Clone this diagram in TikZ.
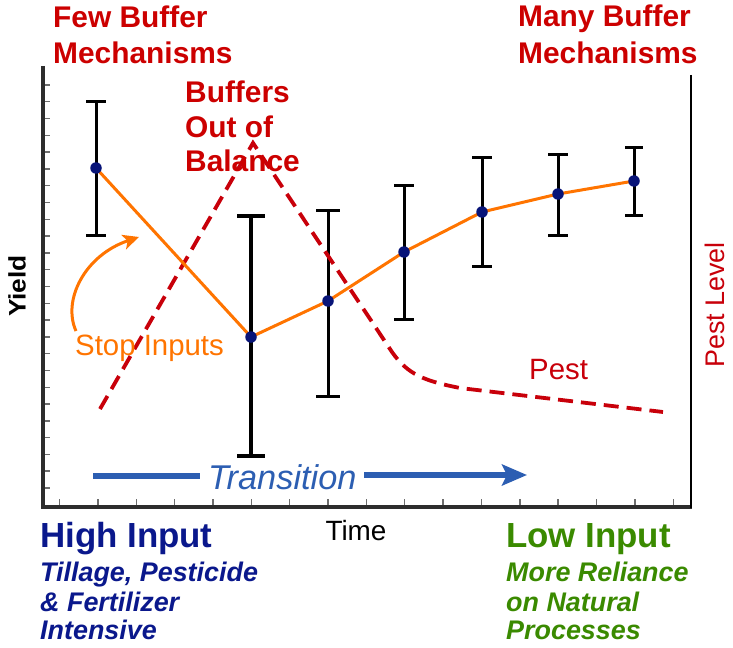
\documentclass[tikz,border=0pt]{standalone}
\usepackage{fontspec}
\setmainfont{Liberation Sans}
\usetikzlibrary{arrows.meta}
\definecolor{tred}{RGB}{204,0,0}
\definecolor{pestred}{RGB}{200,0,10}
\definecolor{navy}{RGB}{10,24,140}
\definecolor{dotblue}{RGB}{8,20,120}
\definecolor{lgreen}{RGB}{58,138,0}
\definecolor{orng}{RGB}{255,116,0}
\definecolor{tblue}{RGB}{44,94,178}
\definecolor{axisgray}{RGB}{45,45,45}
\definecolor{tickgray}{RGB}{110,110,110}
\tikzset{
  title/.style={text=tred, font=\fontsize{30}{35}\selectfont\bfseries, anchor=base west, inner sep=0pt},
  bigin/.style={font=\fontsize{35}{40}\selectfont\bfseries, anchor=base west, inner sep=0pt},
  subin/.style={font=\fontsize{27}{30}\selectfont\bfseries\itshape, anchor=base west, inner sep=0pt},
  errbar/.style={black, line width=3bp},
  yline/.style={orng, line width=3bp},
  pestline/.style={pestred, line width=3.8bp, dash pattern=on 15bp off 8bp},
  dot/.style={circle, fill=dotblue, inner sep=0pt, minimum size=11.5bp},
}
\begin{document}
\begin{tikzpicture}[x=1bp,y=-1bp]
\useasboundingbox (0,0) rectangle (733,648);
% ticks
\foreach \i in {0,...,24}{
  \draw[tickgray, line width=1.4bp] (43,{85+\i*16.79}) -- (50,{85+\i*16.79});
}
\foreach \i in {0,...,16}{
  \draw[tickgray, line width=1.4bp] ({59.5+\i*38.36},507) -- ({59.5+\i*38.36},499);
}
% axes
\draw[axisgray, line width=3.4bp] (43,66) -- (43,507) -- (692,507);
\draw[black, line width=2.6bp] (691,75) -- (691,508);
% error bars
\foreach \x/\t/\b/\w in {96/102/235/10, 328/210/396/12, 404/186/319/10, 482/158/266/10, 558/155/235/10, 634/148/215/9}{
  \draw[errbar] (\x,\t) -- (\x,\b);
  \draw[errbar] (\x-\w,\t) -- (\x+\w,\t);
  \draw[errbar] (\x-\w,\b) -- (\x+\w,\b);
}
\draw[black, line width=4bp] (251,216) -- (251,456);
\draw[black, line width=4bp] (237,216) -- (265,216);
\draw[black, line width=4bp] (237,456) -- (265,456);
% pest curve
\coordinate (pa) at (100,409);
\coordinate (pb) at (253,143);
\coordinate (pc) at (392,352);
\coordinate (pd) at (460,388);
\coordinate (pe) at (663,412);
\draw[pestline] (pa) -- (pb) -- (pc) .. controls (408,375) and (425,381) .. (pd) -- (pe);
% yield line
\coordinate (y1) at (96,168);
\coordinate (y2) at (251,337);
\coordinate (y3) at (328,301);
\coordinate (y4) at (404,252);
\coordinate (y5) at (482,212);
\coordinate (y6) at (558,194);
\coordinate (y7) at (634,181);
\draw[yline] (y1) -- (y2) -- (y3) -- (y4) -- (y5) -- (y6) -- (y7);
\foreach \n in {1,...,7}{ \node[dot] (d\n) at (y\n) {}; }
% stop inputs arrow
\coordinate (sa) at (76,331);
\coordinate (sb) at (139,237);
\draw[orng, line width=3bp, -{Stealth[length=16bp,width=15bp,inset=4bp]}] (sa) .. controls (62,300) and (85,255) .. (sb);
% texts
\node[title] (few1) at (53,28) {Few Buffer};
\node[title] (few2) at (53,64) {Mechanisms};
\node[title] (buf1) at (185,103) {Buffers};
\node[title] (buf2) at (185,138) {Out of};
\node[title] (buf3) at (185,172) {Balance};
\node[title] (many1) at (518,27) {Many Buffer};
\node[title] (many2) at (518,64) {Mechanisms};
\node[text=orng, font=\fontsize{29.5}{30}\selectfont, anchor=base west, inner sep=0pt] (stop) at (75,355) {Stop Inputs};
\node[text=pestred, font=\fontsize{29.5}{30}\selectfont, anchor=base west, inner sep=0pt] (pest) at (529,379) {Pest};
\node[rotate=90, font=\fontsize{24}{24}\selectfont\bfseries, inner sep=0pt] (yield) at (17,286) {\scalebox{1.1}[1]{Yield}};
\node[rotate=90, text=pestred, font=\fontsize{27}{27}\selectfont, inner sep=0pt] (pestlevel) at (715,305) {Pest Level};
\node[font=\fontsize{28}{28}\selectfont, anchor=base, inner sep=0pt] (time) at (356,540) {Time};
% transition
\node[text=tblue, font=\fontsize{34.5}{34}\selectfont\itshape, anchor=base west, inner sep=0pt] (trans) at (208,489) {Transition};
\coordinate (ts) at (93,476);
\coordinate (tl) at (200,476);
\coordinate (tr) at (364,475);
\coordinate (te) at (527,475);
\draw[tblue, line width=5.5bp] (ts) -- (tl);
\draw[tblue, line width=5.5bp, -{Stealth[length=25bp,width=21bp,inset=5bp]}] (tr) -- (te);
% bottom labels
\node[bigin, text=navy] (high) at (40,547) {High Input};
\node[subin, text=navy] (hs1) at (40,581) {Tillage, Pesticide};
\node[subin, text=navy] (hs2) at (40,611) {\& Fertilizer};
\node[subin, text=navy] (hs3) at (40,639) {Intensive};
\node[bigin, text=lgreen] (low) at (506,547) {Low Input};
\node[subin, text=lgreen] (ls1) at (506,581) {More Reliance};
\node[subin, text=lgreen] (ls2) at (506,611) {on Natural};
\node[subin, text=lgreen] (ls3) at (506,639) {Processes};
\end{tikzpicture}
\end{document}
